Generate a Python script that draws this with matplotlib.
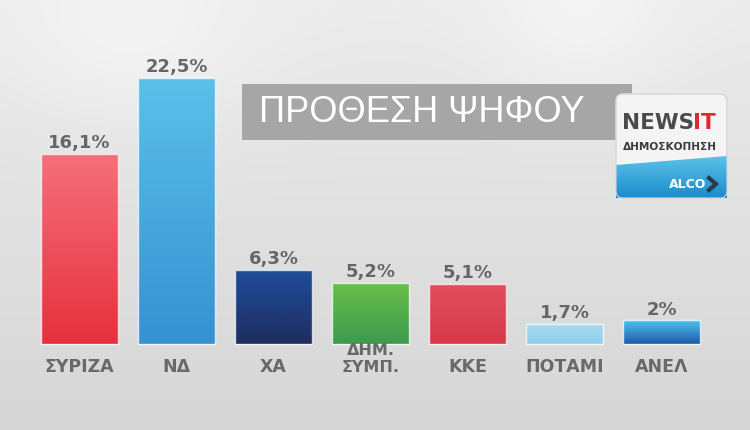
import numpy as np
import matplotlib
matplotlib.use('Agg')
import matplotlib.pyplot as plt
from matplotlib.colors import LinearSegmentedColormap
from matplotlib.patches import Rectangle, FancyBboxPatch, Polygon

# data
parties = ['ΣΥΡΙΖΑ', 'ΝΔ', 'ΧΑ', 'ΔΗΜ.\nΣΥΜΠ.', 'ΚΚΕ', 'ΠΟΤΑΜΙ', 'ΑΝΕΛ']
values = [16.1, 22.5, 6.3, 5.2, 5.1, 1.7, 2.0]
value_labels = ['16,1%', '22,5%', '6,3%', '5,2%', '5,1%', '1,7%', '2%']
top_colors = ['#f4707b', '#5cc0ea', '#1f4d9b', '#6ac04b', '#e0505f', '#aadcf0', '#4dc5ef']
bottom_colors = ['#e7303e', '#3592d2', '#1f2d60', '#3c9a4c', '#d83848', '#8ecfeb', '#1d5aaa']
title = 'ΠΡΟΘΕΣΗ ΨΗΦΟΥ'

W, H = 750, 430
fig = plt.figure(figsize=(W / 100, H / 100), dpi=100)

# background: light grey with soft highlights
bg = fig.add_axes([0, 0, 1, 1])
yy, xx = np.mgrid[0:H, 0:W]
lum = 0.925 - 0.085 * (yy / H)
lum += 0.035 * np.exp(-(((xx - 130) / 120) ** 2 + ((yy - 40) / 90) ** 2))
lum += 0.035 * np.exp(-(((xx - 580) / 90) ** 2 + ((yy - 20) / 80) ** 2))
lum = np.clip(lum, 0, 1)
bg.imshow(np.dstack([lum, lum, lum * 1.005]).clip(0, 1), aspect='auto',
          extent=(0, W, H, 0))
bg.set_xlim(0, W)
bg.set_ylim(H, 0)
bg.axis('off')

# bars
ax = fig.add_axes([0, 0, 1, 1])
ax.patch.set_alpha(0)
step = 97.0
scale = 266 / 22.5
ax.axis('off')

x = np.arange(len(parties))
bars = ax.bar(x, values, width=0.8, color='none', edgecolor='none')
grad = np.linspace(0, 1, 256).reshape(-1, 1)
for i, b in enumerate(bars):
    cmap = LinearSegmentedColormap.from_list('g', [bottom_colors[i], top_colors[i]])
    im = ax.imshow(grad, cmap=cmap, origin='lower', aspect='auto',
                   extent=(b.get_x(), b.get_x() + b.get_width(), 0, b.get_height()),
                   zorder=2)
    im.set_clip_path(b)
    ax.add_patch(Rectangle((b.get_x(), 0), b.get_width(), b.get_height(),
                           fill=False, edgecolor='white', lw=1.0, alpha=0.8, zorder=3))
ax.set_xlim(-79.5 / step, (W - 79.5) / step)
ax.set_ylim(-86 / scale, (H - 86) / scale)

for i, v in enumerate(values):
    ax.annotate(value_labels[i], (x[i], v), xytext=(0, 4), textcoords='offset points',
                ha='center', va='baseline', fontsize=13, fontweight='bold',
                color='#666666', zorder=4)
    fs = 12.5 if '\n' not in parties[i] else 11.5
    # last line of every label sits on the same baseline
    ax.annotate(parties[i], (x[i], 0), xytext=(0, -20.4),
                textcoords='offset points', ha='center', va='baseline',
                fontsize=fs, fontweight='bold', color='#696969',
                linespacing=1.17, zorder=4)

# overlay: title box and logo (pixel coordinates)
ov = fig.add_axes([0, 0, 1, 1])
ov.patch.set_alpha(0)
ov.axis('off')

ov.add_patch(Rectangle((242, 84), 390, 56, facecolor='#a6a6a6', edgecolor='none', zorder=1))
ov.text(259, 122, title, fontsize=26, family='Liberation Sans', color='white',
        ha='left', va='baseline', zorder=2)

logo = FancyBboxPatch((616, 94), 111, 104, boxstyle='round,pad=0,rounding_size=7',
                      facecolor='#f4f4f4', edgecolor='#dcdcdc', lw=0.8, zorder=5)
ov.add_patch(logo)
blue = ov.imshow(np.linspace(0, 1, 64).reshape(-1, 1),
                 cmap=LinearSegmentedColormap.from_list('b', ['#5cc3ea', '#1b8ccb']),
                 aspect='auto', extent=(616, 727, 198, 155), zorder=6)
poly = Polygon([(616, 165), (727, 156), (727, 198), (616, 198)], closed=True,
               transform=ov.transData, facecolor='none', edgecolor='none')
ov.add_patch(poly)
blue.set_clip_path(poly)
logo2 = FancyBboxPatch((616, 94), 111, 104, boxstyle='round,pad=0,rounding_size=7',
                       facecolor='none', edgecolor='#d8d8d8', lw=0.8, zorder=7)
ov.add_patch(logo2)
ov.text(622, 129, 'NEWS', fontsize=15.5, fontweight='bold', color='#4a4a4a',
        ha='left', va='baseline', zorder=8)
ov.text(693, 129, 'IT', fontsize=15.5, fontweight='bold', color='#e3262d',
        ha='left', va='baseline', zorder=8)
ov.text(670, 150, 'ΔΗΜΟΣΚΟΠΗΣΗ', fontsize=7.6, fontweight='bold', color='#3a3a3a',
        ha='center', va='baseline', zorder=8)
ov.text(706, 188, 'ALCO', fontsize=9, fontweight='bold', color='white',
        ha='right', va='baseline', zorder=8)
ov.plot([709, 716, 709], [178, 184, 190], color='#2b3a4a', lw=3,
        solid_joinstyle='miter', zorder=8)
ov.set_xlim(0, W)
ov.set_ylim(H, 0)

fig.savefig('out.png', dpi=100)
